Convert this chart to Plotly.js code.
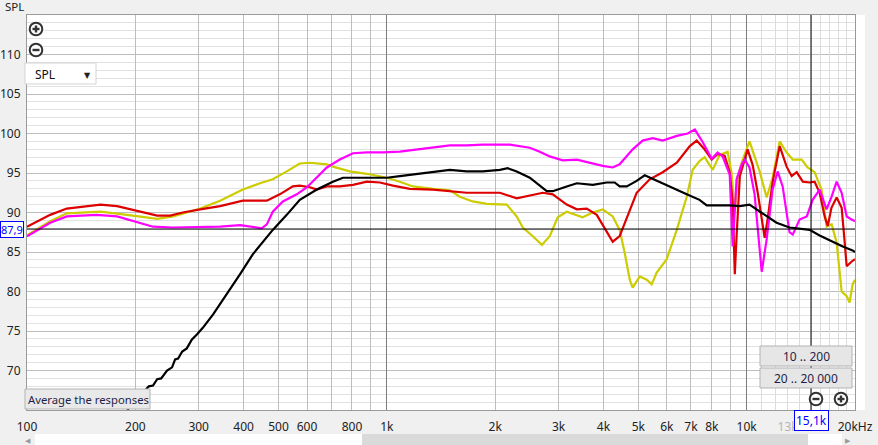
<!DOCTYPE html>
<html>
<head>
<meta charset="utf-8">
<script src="https://cdn.plot.ly/plotly-3.0.1.min.js"></script>
<style>html,body{margin:0;padding:0;background:#f0f0f0;overflow:hidden}#chart{width:878px;height:445px}</style>
</head>
<body>
<div id="chart"></div>
<script>
// ---------- data (frequency in Hz, SPL in dB) ----------
const blackFreq = [190,218,224,230,236,245,253,258,263,270,278,287,297,308,329,359,391,424,458,482,527,573,639,708,755,880,1000,1087,1342,1496,1667,1849,2061,2168,2296,2496,2782,2891,3162,3373,3735,4083,4298,4436,4642,4946,5208,5623,5995,6394,6814,7396,7743,8972,9571,10183,10864,12108,13155,14957,15950,17339,18492,19698,20000];
const blackSPL  = [65.0,68.0,68.1,68.9,69.0,70.0,70.4,71.4,71.5,72.4,72.8,73.9,74.6,75.4,77.1,79.6,82.2,84.7,86.6,87.8,89.7,91.6,92.9,93.9,94.4,94.4,94.4,94.6,95.1,95.4,95.2,95.2,95.4,95.6,95.2,94.4,92.7,92.7,93.3,93.7,93.5,93.8,93.8,93.3,93.3,94.0,94.7,94.0,93.4,92.9,92.3,91.6,90.9,90.9,90.8,91.0,90.1,88.7,88.1,87.8,87.1,86.3,85.7,85.2,85.0];

const redFreq = [100,116,129,160,178,197,230,250,271,303,344,398,464,504,548,573,611,639,681,740,805,880,957,1040,1159,1342,1525,1667,1849,2061,2296,2712,2891,3162,3373,3594,3831,4083,4244,4436,4732,4946,5379,5843,6394,6950,7262,7638,7998,8305,8682,8972,9143,9268,9375,9571,9870,10060,10392,10733,11220,11429,11803,12352,12912,13335,13771,14322,14957,15446,15950,16471,16800,17200,17783,18363,18700,18963,19582,20000];
const redSPL  = [88.2,89.7,90.5,91.0,90.8,90.3,89.6,89.6,90.0,90.4,90.8,91.5,91.5,92.3,93.3,93.4,93.2,92.9,93.3,93.3,93.5,93.9,93.8,93.4,93.0,92.9,92.7,92.5,92.5,92.5,91.8,92.5,92.3,91.0,90.4,90.5,89.7,87.5,86.3,87.0,90.4,92.5,94.2,95.1,96.3,98.4,99.1,98.0,96.7,97.4,97.2,95.1,91.3,82.2,87.0,94.6,96.7,98.0,96.0,92.5,86.8,89.1,93.8,98.4,95.8,94.6,95.1,93.9,93.8,93.9,92.5,89.5,88.3,90.6,91.9,90.6,86.5,83.2,83.8,84.1];

const yellowFreq = [100,116,129,160,197,230,255,303,344,398,444,482,527,573,611,681,708,789,880,1000,1087,1181,1342,1496,1595,1733,1896,2154,2296,2387,2545,2697,2836,2985,3162,3436,3500,3735,3981,4244,4436,4581,4732,4822,5044,5275,5445,5623,5995,6394,6814,7079,7396,7638,8046,8414,8851,9078,9268,9441,9750,10183,10520,10864,11364,11803,12352,12912,13428,14219,14764,15446,16143,16673,17220,17783,18363,18963,19320,19698,20000];
const yellowSPL  = [87.1,88.9,89.9,90.1,89.6,89.2,89.5,90.5,91.5,92.9,93.7,94.2,95.2,96.2,96.3,96.1,95.8,95.2,94.9,94.4,93.9,93.3,93.0,92.8,92.0,91.4,91.1,91.0,89.5,88.1,87.0,85.9,87.0,89.4,90.1,89.6,89.4,90.0,90.4,89.5,87.8,84.9,81.5,80.5,81.9,81.5,80.9,82.4,84.1,87.8,92.0,95.4,96.5,97.0,95.4,97.3,97.7,95.0,89.9,94.6,96.7,99.0,97.0,95.2,91.9,94.4,99.0,97.6,96.7,96.7,95.7,95.1,92.9,88.2,88.5,86.2,80.0,79.4,78.6,80.9,81.5];

const magentaFreq = [100,116,129,156,178,197,224,254,303,344,391,416,449,464,482,514,562,600,639,681,740,805,880,975,1087,1342,1496,1667,1849,2061,2197,2496,2661,2836,3082,3373,3664,3981,4244,4436,4822,5140,5483,5843,6394,6855,7178,7551,7998,8305,8570,8972,9143,9375,9689,9870,10183,10520,11010,11364,11803,12190,12589,13155,13428,14030,14689,15251,15950,16673,17220,17783,18363,18963,19582,20000];
const magentaSPL  = [87.0,88.7,89.5,89.7,89.5,88.9,88.2,88.1,88.2,88.2,88.4,88.2,88.0,88.5,90.1,91.4,92.3,93.2,94.4,95.7,96.7,97.5,97.6,97.6,97.7,98.2,98.5,98.5,98.6,98.6,98.6,98.2,97.7,97.1,96.6,96.7,96.3,95.9,95.7,96.1,98.0,99.1,99.4,99.1,99.7,100.0,100.5,98.9,96.8,97.6,97.1,94.8,85.7,94.2,96.1,96.7,95.7,92.3,82.5,86.6,92.9,95.2,93.3,87.5,87.2,89.1,89.5,91.6,92.9,90.4,92.0,93.9,92.5,89.5,89.1,88.9];

const cursorFreq = 15100;
const cursorSPL = 87.9;

const xTickVals = [100,200,300,400,500,600,800,1000,2000,3000,4000,5000,6000,7000,8000,10000,13000,20000];
const xTickText = ['100','200','300','400','500','600','800','1k','2k','3k','4k','5k','6k','7k','8k','10k','<span style="color:#b4b4b4">13k</span>','20kHz'];
const gridMain = [200,300,400,500,600,700,800,900,2000,3000,4000,5000,6000,7000,8000,9000];
const gridDecade = [1000,10000];
const gridFine = [11000,12000,13000,14000,15000,16000,17000,18000,19000];
const yTickVals = [70,75,80,85,90,95,100,105,110];

// ---------- layout helpers (pixel -> paper) ----------
const L = 27, R = 855, T = 15, B = 410;
const ax = p => (p - L) / (R - L);
const ay = p => (B - p) / (B - T);
const FONT = 'Noto Sans, DejaVu Sans, sans-serif';

function curve(x, y, color) {
  return {x, y, type: 'scatter', mode: 'lines', line: {color, width: 2.2}, hoverinfo: 'skip', showlegend: false};
}
const traces = [
  curve(yellowFreq, yellowSPL, '#cccc00'),
  curve(redFreq, redSPL, '#dd0000'),
  curve(magentaFreq, magentaSPL, '#ff00ff'),
  curve(blackFreq, blackSPL, '#000000'),
  {x: [cursorFreq, cursorFreq], y: [65, 115], mode: 'lines', line: {color: '#000', width: 1}, hoverinfo: 'skip', showlegend: false},
  {x: [100, 20000], y: [cursorSPL, cursorSPL], mode: 'lines', line: {color: '#000', width: 1}, hoverinfo: 'skip', showlegend: false},
  {x: [], y: [], xaxis: 'x2', showlegend: false},
  {x: [], y: [], xaxis: 'x3', showlegend: false},
  {x: [], y: [], xaxis: 'x4', showlegend: false}
];

const xr = [2, Math.log10(20000)];
function gridAxis(vals, color) {
  return {type: 'log', range: xr, overlaying: 'x', anchor: 'y', tickmode: 'array', tickvals: vals,
          showticklabels: false, ticks: '', showgrid: true, gridcolor: color, gridwidth: 1, zeroline: false, showline: false, fixedrange: true};
}

const shapes = [];
const annotations = [];
function rect(x0, y0, x1, y1, fill, line, lw) {
  shapes.push({type: 'rect', xref: 'paper', yref: 'paper', x0: ax(x0), x1: ax(x1), y0: ay(y1), y1: ay(y0),
               fillcolor: fill, line: {color: line || fill, width: lw === undefined ? 1 : lw}, layer: 'above'});
}
function lineSeg(x0, y0, x1, y1, color, w) {
  shapes.push({type: 'line', xref: 'paper', yref: 'paper', x0: ax(x0), x1: ax(x1), y0: ay(y0), y1: ay(y1),
               line: {color, width: w}, layer: 'above'});
}
function text(x, y, s, opts) {
  annotations.push(Object.assign({xref: 'paper', yref: 'paper', x: ax(x), y: ay(y), text: s, showarrow: false,
    xanchor: 'center', yanchor: 'middle', font: {family: FONT, size: 12, color: '#222'}}, opts || {}));
}
function zoomIcon(cx, cy, plus) {
  const r = 6.3;
  shapes.push({type: 'circle', xref: 'paper', yref: 'paper', x0: ax(cx - r), x1: ax(cx + r), y0: ay(cy + r), y1: ay(cy - r),
               fillcolor: 'rgba(255,255,255,0.9)', line: {color: '#333', width: 2}, layer: 'above'});
  lineSeg(cx - 3.5, cy, cx + 3.5, cy, '#333', 2.4);
  if (plus) lineSeg(cx, cy - 3.5, cx, cy + 3.5, '#333', 2.4);
}

// right white strip and scrollbar
rect(856, 15, 865, 410, '#ffffff', '#ffffff', 0);
rect(35, 434, 842, 445, '#ffffff', '#ffffff', 0);
rect(362, 434, 808, 445, '#dadada', '#dadada', 0);
text(28, 440.5, '◀', {font: {family: FONT, size: 7, color: '#9a9a9a'}});
text(848, 440.5, '▶', {font: {family: FONT, size: 7, color: '#9a9a9a'}});

// top-left controls
text(3, 7, 'SPL', {xanchor: 'left', font: {family: FONT, size: 11.5, color: '#222'}});
zoomIcon(36, 29, true);
zoomIcon(36, 50, false);
rect(25, 63, 96, 84, '#ffffff', '#d4d4d4', 1);
text(33, 74, 'SPL', {xanchor: 'left', font: {family: FONT, size: 12, color: '#111'}});
text(87, 74, '▼', {font: {family: FONT, size: 8, color: '#222'}});

// bottom-left button
rect(25, 389, 150, 409, '#e9e9e9', '#b3b3b3', 1);
text(88, 399.5, 'Average the responses', {font: {family: FONT, size: 11.3, color: '#1f1f48'}});

// bottom-right buttons
rect(760, 346, 852, 366, '#e6e6e6', '#b3b3b3', 1);
text(806, 356, '10 .. 200', {font: {family: FONT, size: 12, color: '#1f1f48'}});
rect(760, 368, 852, 388, '#e6e6e6', '#b3b3b3', 1);
text(806, 378, '20 .. 20 000', {font: {family: FONT, size: 12, color: '#1f1f48'}});
zoomIcon(816, 399, false);
zoomIcon(841, 399, true);

// cursor readouts
annotations.push({xref: 'x', yref: 'paper', x: Math.log10(cursorFreq), y: ay(421), text: '15,1k', showarrow: false,
  xanchor: 'center', yanchor: 'middle', bgcolor: '#ffffff', bordercolor: '#0000ff', borderwidth: 1, borderpad: 1,
  font: {family: FONT, size: 12, color: '#0000ff'}});
annotations.push({xref: 'paper', yref: 'y', x: ax(0.5), y: cursorSPL, text: '87,9', showarrow: false,
  xanchor: 'left', yanchor: 'middle', bgcolor: '#ffffff', bordercolor: '#0000ff', borderwidth: 1, borderpad: 0,
  font: {family: FONT, size: 11, color: '#0000ff'}});

const layout = {
  width: 878, height: 445,
  margin: {l: L, r: 878 - R, t: T, b: 445 - B, pad: 0},
  paper_bgcolor: '#f0f0f0', plot_bgcolor: '#ffffff',
  font: {family: FONT, size: 12, color: '#222'},
  showlegend: false,
  xaxis: {type: 'log', range: xr, tickmode: 'array', tickvals: xTickVals, ticktext: xTickText,
          showgrid: false, zeroline: false, ticks: '', ticklabelstandoff: 6,
          showline: true, linecolor: '#9a9a9a', linewidth: 1, mirror: true,
          tickfont: {family: FONT, size: 12, color: '#222'}, fixedrange: true},
  xaxis2: gridAxis(gridMain, '#bdbdbd'),
  xaxis3: gridAxis(gridDecade, '#7c7c7c'),
  xaxis4: gridAxis(gridFine, '#dcdcdc'),
  yaxis: {range: [65, 115], tickmode: 'array', tickvals: yTickVals, showgrid: true, gridcolor: '#bdbdbd',
          minor: {dtick: 1, tick0: 65, showgrid: true, gridcolor: '#e2e2e2', ticks: ''},
          zeroline: false, ticks: '', ticklabelstandoff: 3,
          showline: true, linecolor: '#9a9a9a', linewidth: 1, mirror: true,
          tickfont: {family: FONT, size: 12, color: '#222'}, fixedrange: true},
  shapes, annotations
};

Plotly.newPlot('chart', traces, layout, {staticPlot: true, displayModeBar: false});
</script>
</body>
</html>
